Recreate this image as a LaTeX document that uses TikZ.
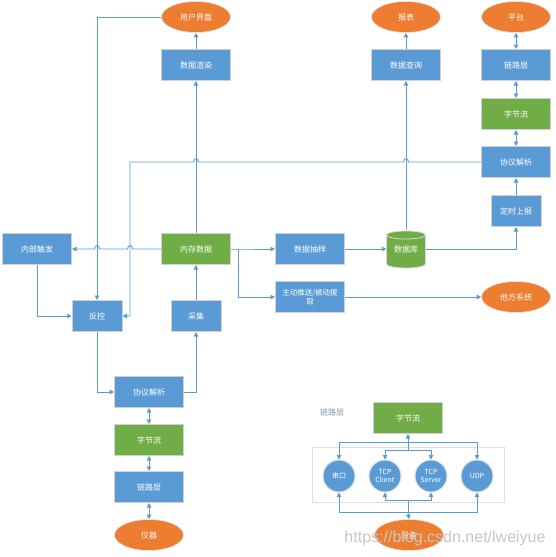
\documentclass[tikz,border=0pt]{standalone}
\usepackage{fontspec}
\setmainfont{Noto Sans CJK SC}
\newfontfamily\wmfont{Liberation Sans}
\usetikzlibrary{shapes.geometric,arrows.meta}
\definecolor{cblue}{HTML}{5B9BD5}
\definecolor{cgreen}{HTML}{70AD47}
\definecolor{corange}{HTML}{ED7D31}
\definecolor{cline}{HTML}{5B9BD5}
\definecolor{clabel}{HTML}{8497B0}
\begin{document}
\begin{tikzpicture}[x=1pt,y=-1pt,
  line/.style={draw=cline,line width=0.9pt},
  arr/.style={line,-{Triangle[length=4.5pt,width=4.5pt]}},
  darr/.style={line,{Triangle[length=4.5pt,width=4.5pt]}-{Triangle[length=4.5pt,width=4.5pt]}},
  txt/.style={font=\fontsize{8}{10}\selectfont},
  bbox/.style={rectangle,fill=cblue,draw=black!18,line width=1pt,text=white,minimum width=69pt,minimum height=31pt,inner sep=1pt,txt,align=center},
  sbox/.style={bbox,minimum width=50pt},
  gbox/.style={bbox,fill=cgreen},
  oell/.style={ellipse,fill=corange,draw=black!10,line width=0.6pt,text=white,minimum width=69pt,minimum height=31pt,inner sep=0pt,txt},
  circ/.style={circle,fill=cblue,draw=black!12,line width=1pt,minimum size=32pt,inner sep=0pt,text=white,font=\fontsize{7}{8.5}\selectfont,align=center}
]
\useasboundingbox[fill=white] (0,0) rectangle (555,557);

% ---- top row
\node[oell] (ui) at (196,17) {用户界面};
\node[bbox] (xr) at (196,65) {数据渲染};
\node[oell] (bb) at (406,17) {报表};
\node[bbox] (cx) at (406,65) {数据查询};
\node[oell] (pt) at (516,17) {平台};
\node[bbox] (llR) at (516,65) {链路层};
\node[gbox] (zjR) at (516,114) {字节流};
\node[bbox] (xyR) at (516,162) {协议解析};
\node[sbox] (ds) at (516,211) {定时上报};

% ---- middle
\node[bbox] (nb) at (37,249) {内部触发};
\node[gbox] (nc) at (196,249) {内存数据};
\node[bbox] (cy) at (310,249) {数据抽样};
\node[bbox,font=\fontsize{7.5}{9.5}\selectfont] (ts) at (310,297) {主动推送/被动提\\取};
\node[oell] (tf) at (516,297) {他方系统};

% database cylinder
\fill[cgreen,draw=black!15,line width=0.8pt] (386.5,235) -- (386.5,264) arc[start angle=180,end angle=0,x radius=19.5,y radius=4] -- (425.5,235) -- cycle;
\fill[cgreen,draw=black!15,line width=0.8pt] (406,235) ellipse[x radius=19.5,y radius=4];
\node[minimum width=39pt,minimum height=37pt,inner sep=0pt,text=white,txt] (db) at (406,249) {数据库};

\node[sbox] (fk) at (97,316) {反控};
\node[sbox] (cj) at (196,316) {采集};

% ---- bottom left
\node[bbox] (xyL) at (149,392) {协议解析};
\node[gbox] (zjL) at (149,440) {字节流};
\node[bbox] (llL) at (149,487) {链路层};
\node[oell] (yq) at (149,535) {仪器};

% ---- bottom right
\node[text=clabel,txt] (lab) at (332,412) {链路层};
\node[gbox] (zj2) at (408,418) {字节流};
\draw[black!12,line width=0.8pt] (312,447) rectangle (504,502);
\node[circ] (sc) at (339,476) {串口};
\node[circ] (tc) at (385,476) {TCP\\Client};
\node[circ] (tsv) at (431,476) {TCP\\Server};
\node[circ] (udp) at (477,476) {UDP};
\node[oell] (sb) at (409,535) {设备};
\coordinate (b1) at (408,442);
\coordinate (b2) at (408,450);
\coordinate (b3) at (408,500);
\coordinate (b4) at (408,512);

% ---- connectors top
\draw[arr] (xr.north) -- (ui.south);
\draw[arr] (nc.north) -- (xr.south);
\draw[arr] (cx.north) -- (bb.south);
\draw[arr] (db.north) -- (cx.south);
\draw[darr] (llR.north) -- (pt.south);
\draw[darr] (zjR.north) -- (llR.south);
\draw[darr] (xyR.north) -- (zjR.south);
\draw[arr] (ds.north) -- (xyR.south);
\draw[arr] (db.east) -| (ds.south);
\draw[arr] (ui.west) -| (fk.north);
\draw[arr] (xyR.west) -- (408.5,162) .. controls (408.5,157.5) and (403.5,157.5) .. (403.5,162)
   -- (198.5,162) .. controls (198.5,157.5) and (193.5,157.5) .. (193.5,162)
   -- (130,162) |- (fk.east);
\draw[arr] (nc.west) -- (132.5,249) .. controls (132.5,244.5) and (127.5,244.5) .. (127.5,249)
   -- (99.5,249) .. controls (99.5,244.5) and (94.5,244.5) .. (94.5,249) -- (nb.east);
\draw[arr] (nb.south) |- (fk.west);
\draw[arr] (cj.north) -- (nc.south);
\coordinate (br) at (238,249);
\draw[arr] (nc.east) -- (br) -- (cy.west);
\draw[arr] (br) |- (ts.west);
\draw[arr] (cy.east) -- (db.west);
\draw[arr] (ts.east) -- (tf.west);

% ---- connectors bottom left
\draw[arr] (fk.south) |- (xyL.west);
\draw[arr] (xyL.east) -| (cj.south);
\draw[darr] (xyL.south) -- (zjL.north);
\draw[darr] (zjL.south) -- (llL.north);
\draw[darr] (llL.south) -- (yq.north);

% ---- connectors bottom right
\draw[arr] (b2) -- (zj2.south);
\draw[arr] (b1) -| (sc.north);
\draw[arr] (b1) -| (udp.north);
\draw[arr] (b2) -| (tc.north);
\draw[arr] (b2) -| (tsv.north);
\draw[line] (b3) -- (b4);
\draw[arr] (b3) -| (tc.south);
\draw[arr] (b3) -| (tsv.south);
\draw[arr] (b4) -| (sc.south);
\draw[arr] (b4) -| (udp.south);
\draw[arr] (b4) -- (sb.north);

% watermark
\node[text=black!22,font=\wmfont\fontsize{16}{18}\selectfont] (wm) at (445,538) {https://blog.csdn.net/lweiyue};
\end{tikzpicture}
\end{document}
